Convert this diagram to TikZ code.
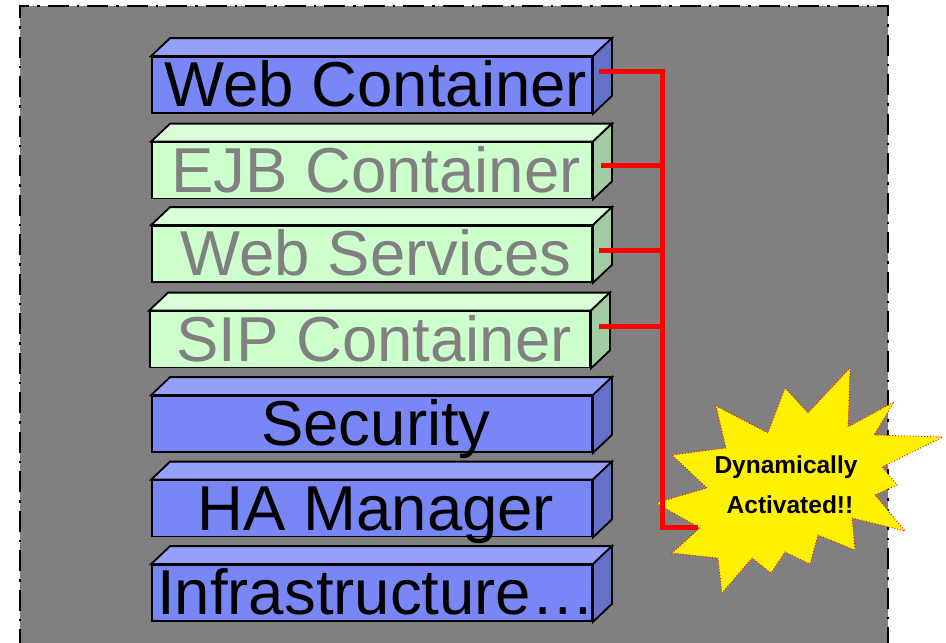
\documentclass[tikz,border=0pt]{standalone}
\usepackage{fontspec}
\setmainfont{Liberation Sans}
\begin{document}
\begin{tikzpicture}[x=1pt,y=-1pt,
  face/.style={draw=black,line width=1.8pt,line join=miter,rectangle,minimum width=440pt,minimum height=56pt,inner sep=0pt},
  bigtext/.style={font=\fontsize{63.5}{70}\selectfont,inner sep=0pt,anchor=base},
  smalltext/.style={font=\fontsize{24.5}{26}\selectfont\bfseries,inner sep=0pt,anchor=base},
  redline/.style={draw=red,line width=5pt},
  burst/.style={fill=yellow,draw=red,line width=0.9pt,dotted}
]
\definecolor{bluef}{HTML}{7987F6}
\definecolor{bluet}{HTML}{95A0FB}
\definecolor{blues}{HTML}{6471CA}
\definecolor{greenf}{HTML}{CCFFCC}
\definecolor{greent}{HTML}{D9FFD9}
\definecolor{greens}{HTML}{A3CCA3}
\definecolor{bggray}{HTML}{808080}
\useasboundingbox (0,0) rectangle (946,643);
\fill[bggray] (20,6) rectangle (888,650);
\draw[black,line width=2.8pt,dash pattern=on 21pt off 8pt on 2.5pt off 8pt] (20,650) -- (20,6) -- (888,6) -- (888,650);

% prism macro: name, center x, center y, front, top, side, text, text colour
\newcommand{\myprism}[8]{%
  \node[face,fill=#4] (#1) at (#2,#3) {};
  \filldraw[fill=#5,draw=black,line width=1.8pt,line join=miter] (#1.north west) -- ++(19,-18) -- ([shift={(19,-18)}]#1.north east) -- (#1.north east) -- cycle;
  \filldraw[fill=#6,draw=black,line width=1.8pt,line join=miter] (#1.north east) -- ++(19,-18) -- ([shift={(19,-18)}]#1.south east) -- (#1.south east) -- cycle;
  \node[bigtext,text=#8] (#1T) at ([shift={(4,-7)}]#1.south) {#7};
}
\myprism{web}{372}{85}{bluef}{bluet}{blues}{Web Container}{black}
\myprism{ejb}{372}{170.5}{greenf}{greent}{greens}{EJB Container}{bggray}
\myprism{ws}{372}{254}{greenf}{greent}{greens}{Web Services}{bggray}
\myprism{sip}{370}{339.5}{greenf}{greent}{greens}{SIP Container}{bggray}
\myprism{sec}{372}{424}{bluef}{bluet}{blues}{Security}{black}
\myprism{ha}{372}{508.5}{bluef}{bluet}{blues}{HA Manager}{black}
\myprism{inf}{372}{593}{bluef}{bluet}{blues}{Infrastructure…}{black}

% starburst
\filldraw[burst] (850,368) -- (848,427) -- (894,402) -- (874,435) -- (943,437) -- (882,467)
  -- (897,485) -- (875,495) -- (905,531) -- (852,518) -- (855,550) -- (818,535)
  -- (810,564) -- (785,552) -- (771,573) -- (752,558) -- (722,593) -- (718,558)
  -- (672,553) -- (700,528) -- (656,503) -- (707,488) -- (672,455) -- (726,448)
  -- (716,406) -- (768,433) -- (785,388) -- (808,413) -- cycle;
\node[smalltext] (dyn) at (786,473) {Dynamically};
\node[smalltext] (act) at (790,513) {Activated!!};

% red connectors
\coordinate (bustop) at (662,68.5);
\coordinate (bus) at (662,527);
\coordinate (busend) at (698,527);
\coordinate (wA) at ([shift={(6,-14)}]web.east);
\coordinate (eA) at ([shift={(8,-5.5)}]ejb.east);
\coordinate (sA) at ([shift={(6,-4)}]ws.east);
\coordinate (pA) at ([shift={(8,-13.5)}]sip.east);
\draw[redline] (wA) -- (wA -| bus);
\draw[redline] (eA) -- (eA -| bus);
\draw[redline] (sA) -- (sA -| bus);
\draw[redline] (pA) -- (pA -| bus);
\draw[redline,line join=miter] (bustop) -- (bus) -- (busend);
\end{tikzpicture}
\end{document}
